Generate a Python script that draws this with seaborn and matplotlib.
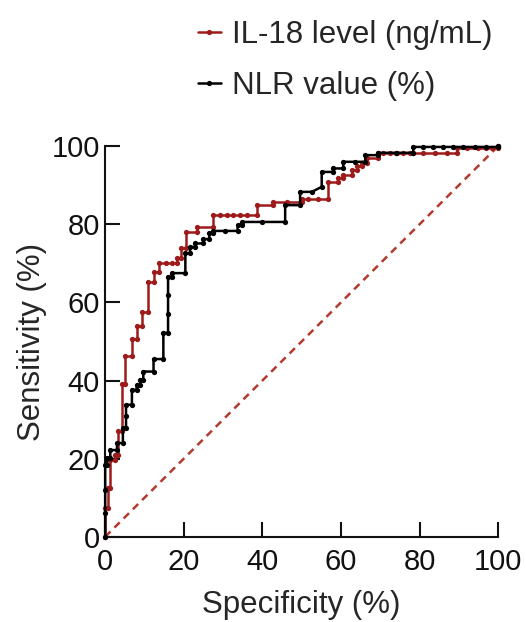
import numpy as np
import pandas as pd
import matplotlib
matplotlib.use("Agg")
import matplotlib.pyplot as plt
import seaborn as sns

# Curvas ROC (x = 100 - especificidad, y = sensibilidad)
il18_x = [0, 0, 0.6, 0.6, 1.3, 1.3, 2.5, 2.5, 3.3, 3.3, 4.2, 4.2, 5.1, 5.1,
          6.8, 6.8, 8.0, 8.0, 9.3, 9.3, 11.0, 11.0, 12.3, 12.3, 13.8, 13.8,
          15.5, 17.0, 18.2, 18.2, 19.3, 19.3, 20.6, 20.6, 23.3, 23.3, 27.5, 27.5,
          29.3, 31.0, 32.6, 34.4, 36.1, 38.6, 38.6, 42.8, 42.8, 46.2, 50.0, 50.0,
          51.7, 54.2, 56.8, 56.8, 59.3, 59.3, 60.6, 60.6, 62.8, 62.8, 64.0, 64.0,
          65.3, 65.3, 66.6, 66.6, 69.5, 69.5, 70.7, 72.5, 74.3, 75.8, 77.6, 78.4,
          81.0, 84.0, 87.0, 89.5, 89.5, 92.0, 95.0, 97.0, 98.5, 100, 100]
il18_y = [0, 7.4, 7.4, 12.5, 12.5, 19.7, 19.7, 21.0, 21.0, 27.0, 27.0, 39.0, 39.0, 46.3,
          46.3, 50.6, 50.6, 54.0, 54.0, 57.5, 57.5, 65.2, 65.2, 67.8, 67.8, 70.0,
          70.0, 70.0, 70.0, 71.4, 71.4, 74.0, 74.0, 78.0, 78.0, 79.3, 79.3, 82.3,
          82.3, 82.3, 82.3, 82.3, 82.3, 82.3, 85.0, 85.0, 85.8, 85.8, 85.8, 86.6,
          86.6, 86.6, 86.6, 90.9, 90.9, 91.8, 91.8, 92.6, 92.6, 93.9, 93.9, 94.9,
          94.9, 95.6, 95.6, 96.9, 96.9, 98.2, 98.2, 98.2, 98.2, 98.2, 98.2, 98.2,
          98.2, 98.2, 98.2, 98.2, 99.5, 99.5, 99.5, 99.5, 99.5, 99.5, 100]

nlr_x = [0, 0, 0, 0, 0.5, 0.5, 1.3, 1.3, 3.0, 3.0, 4.5, 4.5, 5.3, 5.3, 5.3, 6.8, 6.8,
         8.0, 8.0, 8.9, 8.9, 9.7, 9.7, 12.3, 12.3, 14.8, 14.8, 16.0, 16.0, 16.0,
         16.0, 17.0, 17.0, 20.4, 20.4, 21.6, 21.6, 22.9, 22.9, 25.0, 25.0, 26.5,
         26.5, 27.5, 27.5, 30.5, 33.7, 33.7, 34.9, 34.9, 40.0, 45.8, 45.8, 49.6,
         49.6, 52.6, 55.1, 55.1, 58.0, 58.0, 60.6, 60.6, 63.5, 66.2, 66.2, 69.5,
         69.5, 74.0, 78.4, 78.4, 81.0, 83.5, 86.0, 88.5, 91.0, 94.0, 97.0, 100, 100]
nlr_y = [0, 6.0, 12.0, 18.4, 18.4, 20.2, 20.2, 22.2, 22.2, 24.0, 24.0, 27.9, 27.9, 31.0, 33.8,
         33.8, 37.6, 37.6, 38.9, 38.9, 40.2, 40.2, 42.3, 42.3, 45.5, 45.5, 52.2,
         52.2, 57.0, 62.0, 66.6, 66.6, 67.5, 67.5, 72.6, 72.6, 74.2, 74.2, 75.1,
         75.1, 76.2, 76.2, 77.7, 77.7, 78.3, 78.3, 78.3, 79.8, 79.8, 80.6, 80.6,
         80.6, 84.9, 84.9, 88.3, 88.3, 89.6, 93.4, 93.4, 94.3, 94.3, 96.0, 96.0,
         96.0, 97.7, 97.7, 98.3, 98.3, 98.3, 99.8, 99.8, 99.8, 99.8, 99.8, 99.8,
         99.8, 99.8, 99.8, 100]

series_names = ["IL-18 level (ng/mL)", "NLR value (%)"]
series_colors = ["#9e1b1b", "#000000"]
chance_line = [0, 100]
ticks = [0, 20, 40, 60, 80, 100]

df = pd.concat([
    pd.DataFrame({"fpr": il18_x, "tpr": il18_y, "marker": series_names[0]}),
    pd.DataFrame({"fpr": nlr_x, "tpr": nlr_y, "marker": series_names[1]}),
], ignore_index=True)

sns.set_theme(style="ticks")
plt.rcParams["font.family"] = ["Liberation Sans", "DejaVu Sans"]

fig = plt.figure(figsize=(5.26, 6.22), dpi=100)
ax = fig.add_axes([0.2, 0.137, 0.747, 0.628])

# Linea de referencia
ax.plot(chance_line, chance_line, color="#b23a2e", lw=1.8, ls=(0, (3, 2.2)),
        clip_on=False, zorder=1)

sns.lineplot(data=df, x="fpr", y="tpr", hue="marker", hue_order=series_names,
             palette=series_colors, sort=False, estimator=None, marker="o",
             markersize=3.8, markeredgewidth=0, lw=1.8, ax=ax, clip_on=False,
             zorder=3)

ax.set_xlim(0, 100)
ax.set_ylim(0, 100)
ax.set_xticks(ticks)
ax.set_yticks(ticks)
ax.tick_params(direction="in", length=10.5, width=1.5, labelsize=21,
               colors="#111111")
ax.tick_params(axis="x", pad=8)
ax.tick_params(axis="y", pad=4)
for s in ["top", "right"]:
    ax.spines[s].set_visible(False)
for s in ["left", "bottom"]:
    ax.spines[s].set_linewidth(1.5)
    ax.spines[s].set_color("#111111")

ax.set_xlabel("Specificity (%)", fontsize=22.5, labelpad=10)
ax.set_ylabel("Sensitivity (%)", fontsize=22.5, labelpad=3)

handles, labels = ax.get_legend_handles_labels()
ax.legend(handles, labels, loc="upper left", bbox_to_anchor=(0.352, 0.988),
          bbox_transform=fig.transFigure, frameon=False, fontsize=22.5,
          handlelength=0.75, handletextpad=0.35, labelspacing=0.68,
          borderaxespad=0)

fig.savefig("out.png", dpi=100)
